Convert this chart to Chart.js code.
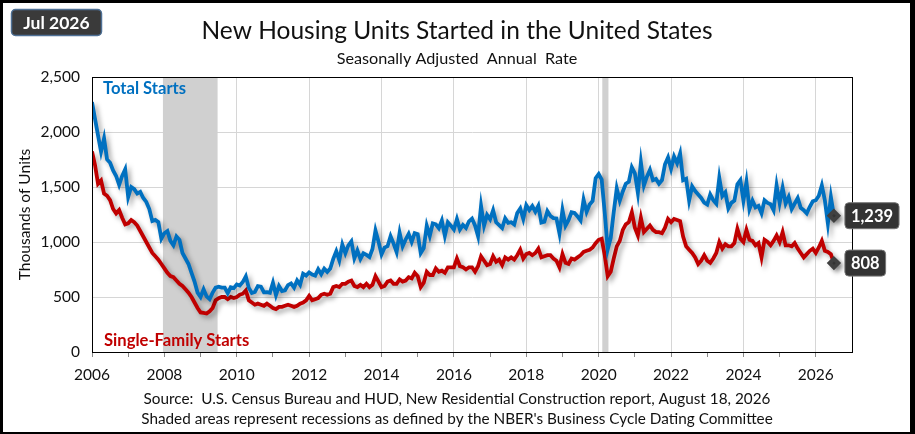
<!DOCTYPE html>
<html>
<head>
<meta charset="utf-8">
<script src="https://cdn.jsdelivr.net/npm/chart.js@4.4.1/dist/chart.umd.min.js"></script>
<style>
  html, body { margin: 0; padding: 0; background: #fff; }
  #frame { width: 915px; height: 434px; box-sizing: border-box; border: solid #000; border-width: 3px 5px 2px 3px; }
  canvas { display: block; }
</style>
</head>
<body>
<div id="frame"><canvas id="chart" width="907" height="429"></canvas></div>
<script>
const FONT = "Lato";

// monthly, Jan 2006 .. Jul 2026 (thousands, SAAR)
const startYear = 2006;
const totalStarts = [
  2273, 2119, 1969, 1821, 1942, 1750, 1720, 1650, 1600, 1520, 1600, 1660, // 2006
  1409, 1500, 1480, 1440, 1455, 1400, 1364, 1300, 1190, 1200, 1180, 1030, // 2007
  1080, 1100, 1010, 970, 1050, 1020, 900, 850, 800, 720, 640, 540,       // 2008
  500, 570, 505, 480, 540, 585, 594, 586, 585, 534, 588, 581,            // 2009
  614, 604, 636, 687, 583, 536, 546, 599, 594, 543, 545, 539,            // 2010
  630, 517, 600, 554, 561, 608, 623, 585, 650, 610, 711, 694,            // 2011
  723, 704, 695, 753, 708, 757, 728, 758, 847, 915, 833, 976,            // 2012
  898, 969, 1005, 852, 923, 846, 898, 883, 863, 936, 1105, 1003,         // 2013
  888, 949, 962, 1052, 985, 909, 1085, 961, 1023, 1074, 1001, 1080,      // 2014
  1071, 900, 945, 1148, 1055, 1169, 1161, 1125, 1195, 1056, 1179, 1149,  // 2015
  1114, 1208, 1113, 1155, 1128, 1188, 1213, 1150, 1054, 1328, 1149, 1246, // 2016
  1206, 1289, 1179, 1154, 1127, 1215, 1174, 1180, 1159, 1264, 1305, 1210, // 2017
  1334, 1290, 1327, 1276, 1329, 1177, 1184, 1280, 1237, 1217, 1214, 1078, // 2018
  1291, 1149, 1199, 1270, 1264, 1233, 1196, 1385, 1274, 1340, 1374, 1580, // 2019
  1617, 1567, 1269, 934, 1038, 1273, 1487, 1376, 1459, 1530, 1547, 1680,  // 2020
  1625, 1447, 1725, 1514, 1594, 1657, 1562, 1573, 1530, 1563, 1706, 1768, // 2021
  1666, 1777, 1716, 1805, 1562, 1575, 1377, 1505, 1463, 1432, 1401, 1357, // 2022
  1340, 1432, 1380, 1348, 1583, 1418, 1451, 1305, 1356, 1376, 1525, 1562, // 2023
  1376, 1546, 1299, 1377, 1315, 1329, 1262, 1379, 1355, 1344, 1289, 1515, // 2024
  1355, 1494, 1350, 1410, 1300, 1350, 1400, 1310, 1290, 1260, 1320, 1370, // 2025
  1380, 1420, 1515, 1380, 1170, 1410, 1239                                // 2026
];
const singleFamilyStarts = [
  1823, 1700, 1530, 1560, 1440, 1420, 1380, 1300, 1260, 1290, 1220, 1160, // 2006
  1170, 1200, 1180, 1150, 1100, 1050, 1000, 950, 900, 870, 840, 800,      // 2007
  760, 720, 690, 680, 650, 620, 600, 570, 540, 500, 450, 400,             // 2008
  360, 355, 350, 370, 400, 470, 490, 500, 500, 480, 500, 490,             // 2009
  500, 520, 530, 560, 470, 450, 430, 440, 430, 420, 440, 420,             // 2010
  400, 390, 410, 410, 420, 430, 420, 410, 420, 440, 450, 470,             // 2011
  510, 470, 480, 490, 520, 530, 520, 530, 590, 600, 590, 620,             // 2012
  620, 640, 650, 600, 590, 610, 590, 620, 590, 610, 690, 640,             // 2013
  590, 600, 640, 650, 620, 620, 660, 640, 650, 680, 670, 720,             // 2014
  690, 590, 630, 730, 700, 700, 760, 730, 740, 720, 770, 770,             // 2015
  770, 850, 780, 770, 750, 770, 770, 730, 780, 870, 830, 790,             // 2016
  800, 870, 820, 840, 790, 860, 840, 860, 840, 880, 930, 850,             // 2017
  890, 900, 880, 900, 940, 860, 870, 880, 880, 850, 830, 770,             // 2018
  890, 810, 800, 850, 840, 860, 880, 910, 920, 930, 950, 990,             // 2019
  1020, 1030, 880, 690, 730, 850, 960, 1010, 1110, 1160, 1180, 1270,      // 2020
  1130, 1060, 1220, 1090, 1120, 1150, 1110, 1090, 1090, 1080, 1130, 1210, // 2021
  1180, 1210, 1200, 1190, 1050, 960, 930, 900, 860, 800, 830, 880,        // 2022
  830, 810, 850, 900, 1000, 940, 980, 960, 960, 990, 1120, 1030,          // 2023
  1000, 1110, 1020, 1010, 970, 990, 860, 1020, 1000, 970, 1010, 1060,     // 2024
  1000, 1090, 970, 970, 960, 990, 940, 900, 860, 890, 920, 940,           // 2025
  900, 950, 1010, 920, 910, 890, 808                                      // 2026
];

// NBER recessions, as fractional years
const recessions = [[2007.96, 2009.47], [2020.1, 2020.27]];

const xTickYears = [2006, 2008, 2010, 2012, 2014, 2016, 2018, 2020, 2022, 2024, 2026];
const yTicks = [0, 500, 1000, 1500, 2000, 2500];

const toPoints = arr => arr.map((v, i) => ({ x: startYear + i / 12, y: v }));
const lastIdx = totalStarts.length - 1;

const fmt = v => v.toLocaleString("en-US");

const backdrop = {
  id: "backdrop",
  beforeDatasetsDraw(chart) {
    const { ctx, chartArea: a, scales: { x } } = chart;
    ctx.save();
    ctx.fillStyle = "#d0d0d0";
    recessions.forEach(([s, e]) => {
      const x0 = x.getPixelForValue(s), x1 = x.getPixelForValue(e);
      ctx.fillRect(x0, a.top, x1 - x0, a.bottom - a.top);
    });
    ctx.restore();
    // shadow under the lines
    ctx.save();
    ctx.shadowColor = "rgba(0,0,0,0.35)";
    ctx.shadowBlur = 5;
    ctx.shadowOffsetX = 3;
    ctx.shadowOffsetY = 3;
  },
  afterDatasetsDraw(chart) {
    chart.ctx.restore();
  },
  afterDraw(chart) {
    const { ctx, chartArea: a } = chart;
    ctx.save();
    ctx.strokeStyle = "#000";
    ctx.lineWidth = 1;
    ctx.strokeRect(a.left + 0.5, a.top + 0.5, a.right - a.left, a.bottom - a.top);

    // title + subtitle
    ctx.fillStyle = "#111";
    ctx.textAlign = "center";
    ctx.textBaseline = "middle";
    ctx.font = `24.5px ${FONT}`;
    ctx.fillText("New Housing Units Started in the United States", 454, 28);
    ctx.font = `16.2px ${FONT}`;
    ctx.fillText("Seasonally Adjusted  Annual  Rate", 454, 56);

    // footer
    ctx.font = `15.3px ${FONT}`;
    ctx.fillText("Source:  U.S. Census Bureau and HUD, New Residential Construction report, August 18, 2026", 454, 396);
    ctx.fillText("Shaded areas represent recessions as defined by the NBER's Business Cycle Dating Committee", 454, 416);

    // date badge
    ctx.beginPath();
    ctx.roundRect(8.5, 6.5, 90, 26, 4);
    ctx.fillStyle = "#3a3a3a";
    ctx.fill();
    ctx.strokeStyle = "#4f7196";
    ctx.lineWidth = 1.5;
    ctx.stroke();
    ctx.fillStyle = "#fff";
    ctx.font = `bold 17.5px ${FONT}`;
    ctx.fillText("Jul 2026", 53.5, 20);

    // series names
    ctx.textAlign = "left";
    ctx.font = `bold 16.6px ${FONT}`;
    ctx.fillStyle = "#0070c0";
    ctx.fillText("Total Starts", 100, 86);
    ctx.fillStyle = "#c00000";
    ctx.fillText("Single-Family Starts", 101, 338);

    // end value boxes
    ctx.font = `bold 16.5px ${FONT}`;
    chart.data.datasets.forEach((ds, di) => {
      const pt = chart.getDatasetMeta(di).data[lastIdx];
      const label = fmt(ds.data[lastIdx].y);
      const w = ctx.measureText(label).width + 12;
      const bx = pt.x + 11, by = pt.y - 13;
      ctx.beginPath();
      ctx.roundRect(bx, by, w, 26, 4);
      ctx.fillStyle = "#333";
      ctx.fill();
      ctx.strokeStyle = "#777";
      ctx.lineWidth = 1;
      ctx.stroke();
      ctx.fillStyle = "#fff";
      ctx.textAlign = "center";
      ctx.fillText(label, bx + w / 2, pt.y + 1);
    });
    ctx.restore();
  }
};

const lastPointOnly = ctx => (ctx.dataIndex === lastIdx ? 4.5 : 0);

new Chart(document.getElementById("chart"), {
  type: "line",
  data: {
    datasets: [
      {
        label: "Total Starts",
        data: toPoints(totalStarts),
        borderColor: "#0070c0",
        borderWidth: 3.8,
        pointRadius: lastPointOnly,
        pointStyle: "rectRot",
        pointBackgroundColor: "#404040",
        pointBorderColor: "#404040",
        tension: 0
      },
      {
        label: "Single-Family Starts",
        data: toPoints(singleFamilyStarts),
        borderColor: "#c00000",
        borderWidth: 3.8,
        pointRadius: lastPointOnly,
        pointStyle: "rectRot",
        pointBackgroundColor: "#404040",
        pointBorderColor: "#404040",
        tension: 0
      }
    ]
  },
  options: {
    responsive: false,
    animation: false,
    layout: { padding: { top: 74, right: 58, left: 0, bottom: 0 } },
    plugins: { legend: { display: false }, tooltip: { enabled: false } },
    scales: {
      x: {
        type: "linear",
        min: 2006,
        max: 2027,
        afterFit(scale) { scale.height = 80; },
        afterBuildTicks(scale) {
          const t = [];
          for (let y = 2006; y <= 2026; y++) t.push({ value: y });
          scale.ticks = t;
        },
        ticks: {
          autoSkip: false,
          maxRotation: 0,
          padding: 9,
          color: "#111",
          font: { family: FONT, size: 15.5 },
          callback: v => (xTickYears.includes(v) ? String(v) : "")
        },
        grid: {
          color: c => (c.tick && c.tick.value % 2 === 0 && c.tick.value > 2006 ? "#d6d6d6" : "rgba(0,0,0,0)"),
          tickColor: "#888",
          tickLength: 5
        },
        border: { color: "#000", width: 1 }
      },
      y: {
        min: 0,
        max: 2500,
        afterFit(scale) { scale.width = 89; },
        afterBuildTicks(scale) { scale.ticks = yTicks.map(v => ({ value: v })); },
        ticks: {
          padding: 12,
          color: "#111",
          font: { family: FONT, size: 15.5 },
          callback: v => fmt(v)
        },
        grid: { color: "#d6d6d6", drawTicks: false },
        border: { color: "#000", width: 1 },
        title: {
          display: true,
          text: "Thousands of Units",
          color: "#111",
          font: { family: FONT, size: 15.5 },
          padding: { top: 13, bottom: 0 }
        }
      }
    }
  },
  plugins: [backdrop]
});
</script>
</body>
</html>
